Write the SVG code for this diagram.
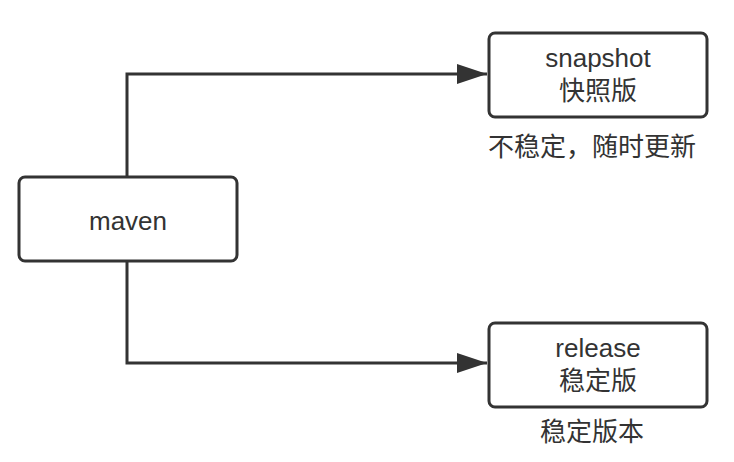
<svg xmlns="http://www.w3.org/2000/svg" width="734" height="462" viewBox="0 0 734 462">
<style>
.box{fill:#fff;stroke:#333;stroke-width:3}
.line{fill:none;stroke:#333;stroke-width:3}
text{font-family:"Liberation Sans","Noto Sans CJK SC",sans-serif;font-size:26px;fill:#333;text-anchor:middle}
</style>
<defs>
<marker id="arr" markerUnits="userSpaceOnUse" markerWidth="32" markerHeight="22" refX="30" refY="10" orient="auto">
<polygon points="0,0 30,10 0,20" fill="#333"/>
</marker>
</defs>
<rect width="734" height="462" fill="#fff"/>
<g id="connectors">
<path class="line" d="M127,177 V74 H487" marker-end="url(#arr)"/>
<path class="line" d="M127,261 V363 H487" marker-end="url(#arr)"/>
</g>
<g id="maven">
<rect class="box" x="19" y="177" width="218" height="84" rx="6"/>
<text x="128" y="230">maven</text>
</g>
<g id="snapshot">
<rect class="box" x="489" y="33" width="218" height="84" rx="6"/>
<text x="598" y="67">snapshot</text>
<text x="598" y="100">快照版</text>
</g>
<g id="release">
<rect class="box" x="489" y="323" width="218" height="84" rx="6"/>
<text x="598" y="357">release</text>
<text x="598" y="390">稳定版</text>
</g>
<text x="592" y="156">不稳定，随时更新</text>
<text x="592" y="441">稳定版本</text>
</svg>
